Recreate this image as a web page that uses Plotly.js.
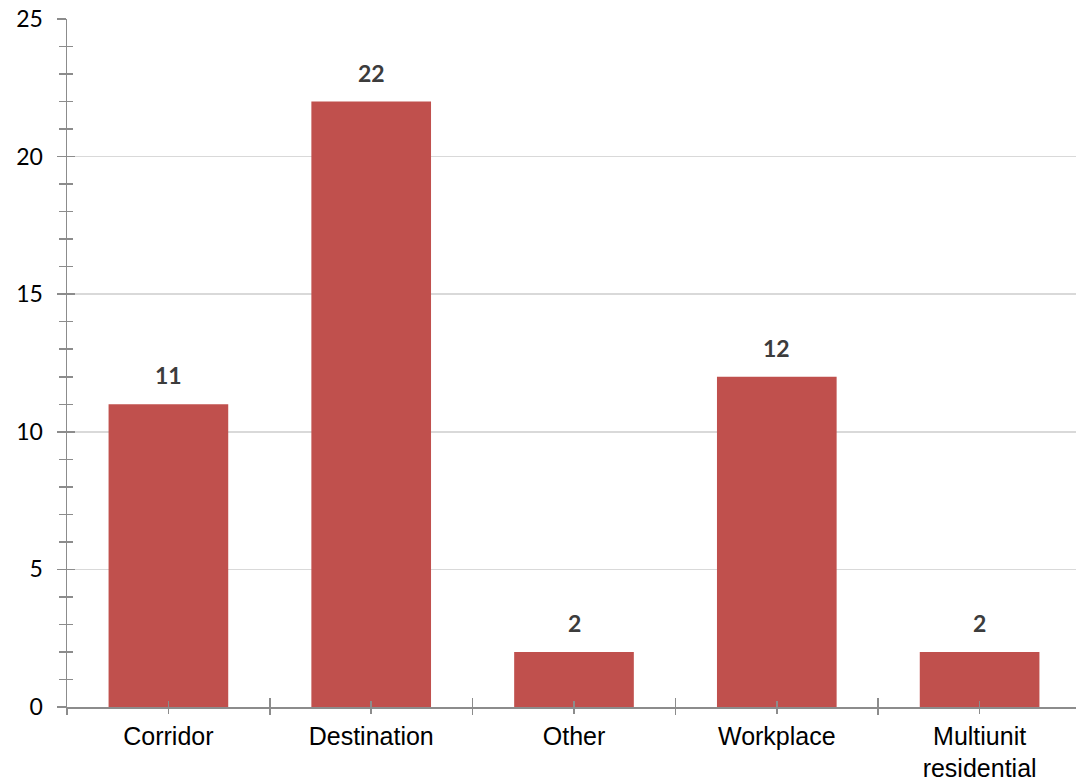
<!DOCTYPE html>
<html>
<head>
<meta charset="utf-8">
<script src="https://cdn.plot.ly/plotly-3.0.1.min.js"></script>
<style>html,body{margin:0;padding:0;background:#fff;overflow:hidden;}#chart{width:1081px;height:782px;}</style>
</head>
<body>
<div id="chart"></div>
<script>
const categories = ["Corridor", "Destination", "Other", "Workplace", "Multiunit<br>residential"];
const values = [11, 22, 2, 12, 2];
const yTickLabels = ["0", "5", "10", "15", "20", "25"];

const barColor = "#C0504D";
const axisColor = "#8c8c8c";
const gridColor = "#d9d9d9";

const traces = [{
  type: "bar",
  x: categories,
  y: values,
  marker: {color: barColor},
  hoverinfo: "skip",
  cliponaxis: false
}];

const annotations = categories.map((c, i) => ({
  x: c, y: values[i], xref: "x", yref: "y",
  text: String(values[i]),
  showarrow: false, yanchor: "bottom", yshift: 13,
  font: {family: "Lato, 'Open Sans', sans-serif", size: 23, color: "#3c3c3c", weight: "bold"}
}));

const overlayX = (tick0, ticks, len) => ({
  overlaying: "x", anchor: "y", type: "linear", range: [-0.5, categories.length - 0.5],
  tickmode: "linear", tick0: tick0, dtick: 1, ticks: ticks, ticklen: len, tickwidth: 1.5,
  tickcolor: axisColor, showticklabels: false, showgrid: false, zeroline: false,
  showline: false, fixedrange: true
});

const layout = {
  width: 1081, height: 782,
  margin: {l: 67, r: 0, t: 19, b: 75},
  paper_bgcolor: "#fff", plot_bgcolor: "#fff",
  showlegend: false,
  bargap: 0.41,
  font: {family: "Liberation Sans, Arial, sans-serif", color: "#000"},
  xaxis: {
    type: "category", range: [-0.5, categories.length - 0.5],
    showline: true, linecolor: axisColor, linewidth: 1.5,
    ticks: "outside", ticklen: 5, tickwidth: 1.5, tickcolor: axisColor,
    ticklabelstandoff: 1,
    tickfont: {family: "Liberation Sans, Arial, sans-serif", size: 25, color: "#000"},
    showgrid: false, zeroline: false, fixedrange: true
  },
  xaxis2: overlayX(-0.5, "outside", 7),
  xaxis3: overlayX(-0.5, "inside", 9),
  xaxis4: overlayX(0, "inside", 6),
  yaxis: {
    range: [0, 25], tickmode: "array",
    tickvals: yTickLabels.map(Number), ticktext: yTickLabels,
    showline: true, linecolor: axisColor, linewidth: 1.5,
    ticks: "outside", ticklen: 9, tickwidth: 1.5, tickcolor: axisColor,
    minor: {dtick: 1, ticks: "outside", ticklen: 7, tickwidth: 1.5, tickcolor: axisColor, showgrid: false},
    showgrid: true, gridcolor: gridColor, gridwidth: 1.5,
    zeroline: false, ticklabelstandoff: 9,
    tickfont: {family: "Lato, 'Open Sans', sans-serif", size: 23, color: "#000"},
    fixedrange: true
  },
  yaxis2: {
    overlaying: "y", anchor: "x", range: [0, 25], tickmode: "linear", tick0: 0, dtick: 5,
    ticks: "inside", ticklen: 8, tickwidth: 1.5, tickcolor: axisColor,
    minor: {dtick: 1, ticks: "inside", ticklen: 6, tickwidth: 1.5, tickcolor: axisColor, showgrid: false},
    showticklabels: false, showgrid: false, zeroline: false, showline: false, fixedrange: true
  },
  annotations: annotations
};

// invisible helper traces so overlay axes are drawn
const helper = (xa, ya) => ({type: "scatter", x: [], y: [], xaxis: xa, yaxis: ya, hoverinfo: "skip", showlegend: false});
traces.push(helper("x2", "y"), helper("x3", "y"), helper("x4", "y"), helper("x", "y2"));

Plotly.newPlot("chart", traces, layout, {staticPlot: true, displayModeBar: false});
</script>
</body>
</html>
